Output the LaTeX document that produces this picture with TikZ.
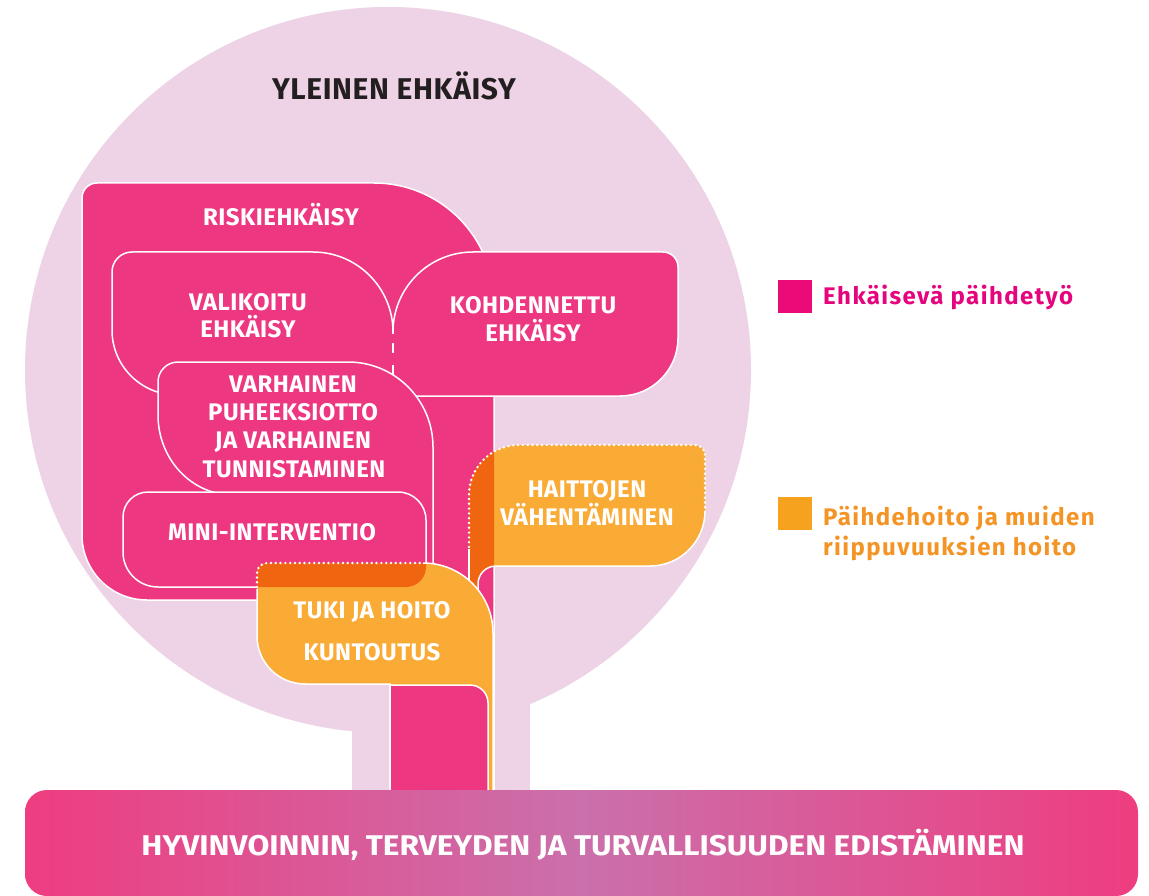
\documentclass[tikz,border=0pt]{standalone}
\usepackage{fontspec}
\setmainfont{Fira Sans}
\usepackage{graphicx}
\definecolor{bgpink}{HTML}{EDD3E5}
\definecolor{mpink}{HTML}{EE3781}
\definecolor{orng}{HTML}{FAAB36}
\definecolor{dkorng}{HTML}{F0650F}
\definecolor{legpink}{HTML}{EA0A78}
\definecolor{legorng}{HTML}{F7A21E}
\definecolor{txtpink}{HTML}{E5047D}
\definecolor{txtorng}{HTML}{F39424}
\definecolor{titlec}{HTML}{231F20}
\definecolor{barpink}{HTML}{EE3D80}
\definecolor{barmid}{HTML}{CA70AB}
\newcommand{\shpR}{(82,198) arc[start angle=180,end angle=270,radius=15] -- (374,183) arc[start angle=270,end angle=360,radius=120] -- (494,790) -- (390,790) -- (390,600) -- (147,600) arc[start angle=90,end angle=180,radius=65] -- cycle}
\newcommand{\shpVA}{(112,272) arc[start angle=180,end angle=270,radius=20] -- (313,252) arc[start angle=270,end angle=360,radius=80] -- (393,395) -- (177,395) arc[start angle=90,end angle=180,radius=65] -- cycle}
\newcommand{\shpKO}{(393,332) arc[start angle=180,end angle=270,radius=80] -- (663,252) arc[start angle=270,end angle=360,radius=15] -- (678,338) arc[start angle=0,end angle=90,radius=58] -- (411,396) arc[start angle=90,end angle=180,radius=18] -- cycle}
\newcommand{\shpV}{(158,382) arc[start angle=180,end angle=270,radius=20] -- (348,362) arc[start angle=270,end angle=360,radius=85] -- (433,590) -- (300,590) -- (300,495) -- (233,495) arc[start angle=90,end angle=180,x radius=75,y radius=80] -- cycle}
\newcommand{\shpMini}{(123,517) arc[start angle=180,end angle=270,radius=25] -- (398,492) arc[start angle=270,end angle=360,radius=28] -- (426,567) arc[start angle=0,end angle=90,radius=20] -- (158,587) arc[start angle=90,end angle=180,radius=35] -- cycle}
\newcommand{\shpTuki}{(257,573) arc[start angle=180,end angle=270,radius=10] -- (423,563) arc[start angle=270,end angle=360,radius=70] -- (493,790) -- (390,790) -- (390,684) -- (305,684) arc[start angle=90,end angle=180,radius=48] -- cycle}
\newcommand{\shpH}{(469,600) -- (469,495) arc[start angle=180,end angle=270,radius=50] -- (695,445) arc[start angle=270,end angle=360,radius=10] -- (705,511) arc[start angle=0,end angle=90,radius=55] -- (496,566) arc[start angle=270,end angle=180,radius=18] -- (478,600) -- cycle}
\newcommand{\shpStem}{(390,800) -- (390,685) -- (470,685) arc[start angle=270,end angle=360,radius=18] -- (488,800) -- cycle}
\begin{document}
\begin{tikzpicture}[x=1pt,y=-1pt,
  edge/.style={draw=white,line width=1.5},
  dotline/.style={white,line width=2.7,dash pattern=on 0pt off 4.8pt,line cap=round},
  boxtext/.style={text=white,font=\fontsize{24}{24}\selectfont\bfseries\addfontfeatures{LetterSpace=2},anchor=base,inner sep=0},
  legtext/.style={font=\fontsize{24}{24}\selectfont\bfseries\addfontfeatures{LetterSpace=6},anchor=base west,inner sep=0}]
\useasboundingbox (0,0) rectangle (1149,896);
\fill[white] (0,0) rectangle (1149,896);
% background tree
\fill[bgpink] (388,370) circle[radius=363];
\fill[bgpink] (352,600) rectangle (530,800);
% riskiehkaisy
\fill[mpink] \shpR; \draw[edge] \shpR;
% valikoitu and kohdennettu
\fill[mpink] \shpVA; \draw[edge] \shpVA;
\fill[mpink] \shpKO; \draw[edge] \shpKO;
\draw[mpink,line width=3] (393,334) -- (393,392);
\draw[white,line width=1.8,dash pattern=on 10pt off 12pt] (393,343) -- (393,392);
% varhainen
\fill[mpink] \shpV; \draw[edge] \shpV;
% mini
\fill[mpink] \shpMini; \draw[edge] \shpMini;
% haittojen
\fill[orng] \shpH;
\begin{scope}\clip \shpR; \fill[dkorng] \shpH; \end{scope}
\draw[dotline] (469,547) -- (469,495) arc[start angle=180,end angle=270,radius=50] -- (695,445) arc[start angle=270,end angle=360,radius=10] -- (705,511);
\draw[white,line width=1.5] (705,511) arc[start angle=0,end angle=90,radius=55] -- (496,566) arc[start angle=270,end angle=180,radius=18] -- (478,600);
\draw[white,line width=1.5] (469,549) -- (469,600);
% tuki
\fill[orng] \shpTuki;
\begin{scope}\clip \shpMini; \fill[dkorng] \shpTuki; \end{scope}
\draw[dotline] (257,587) -- (257,573) arc[start angle=180,end angle=270,radius=10] -- (423,563);
\draw[white,line width=1.5] (423,563) arc[start angle=270,end angle=360,radius=70] -- (493,790);
\draw[white,line width=1.5] (390,790) -- (390,684) -- (305,684) arc[start angle=90,end angle=180,radius=48] -- (257,589);
% stem
\fill[mpink] \shpStem; \draw[edge] \shpStem;
% bar
\shade[left color=barpink,right color=barpink,middle color=barmid,rounded corners=22] (25,790) rectangle (1138,896);
% texts
\node[anchor=base,inner sep=0,text=titlec,font=\fontsize{30}{30}\selectfont\bfseries\addfontfeatures{LetterSpace=2}] (title) at (394,100) {YLEINEN EHKÄISY};
\node[boxtext] (risk) at (281,226) {RISKIEHKÄISY};
\node[boxtext] (va1) at (248,310) {VALIKOITU};
\node[boxtext] (va2) at (248,337) {EHKÄISY};
\node[boxtext] (ko1) at (533,313) {KOHDENNETTU};
\node[boxtext] (ko2) at (533,341) {EHKÄISY};
\node[boxtext] (v1) at (293,392) {VARHAINEN};
\node[boxtext] (v2) at (293,420) {PUHEEKSIOTTO};
\node[boxtext] (v3) at (293,448) {JA VARHAINEN};
\node[boxtext] (v4) at (294,477) {TUNNISTAMINEN};
\node[boxtext] (mini) at (272,540) {MINI-INTERVENTIO};
\node[boxtext] (tuki) at (372,618) {TUKI JA HOITO};
\node[boxtext] (kunt) at (372,660) {KUNTOUTUS};
\node[boxtext] (h1) at (587,497) {HAITTOJEN};
\node[boxtext] (h2) at (587,525) {VÄHENTÄMINEN};
% legend
\fill[legpink] (778,280) rectangle (812,313);
\node[legtext,text=txtpink] (leg1) at (823,305) {Ehkäisevä päihdetyö};
\fill[legorng] (778,497) rectangle (812,530);
\node[legtext,text=txtorng] (leg2) at (823,525) {Päihdehoito ja muiden};
\node[legtext,text=txtorng] (leg3) at (823,555) {riippuvuuksien hoito};
% bar text
\node[anchor=base,inner sep=0,text=white] (bar) at (583,855) {\resizebox{883pt}{\height}{\fontsize{28.5}{28.5}\selectfont\bfseries HYVINVOINNIN, TERVEYDEN JA TURVALLISUUDEN EDISTÄMINEN}};
\end{tikzpicture}
\end{document}
